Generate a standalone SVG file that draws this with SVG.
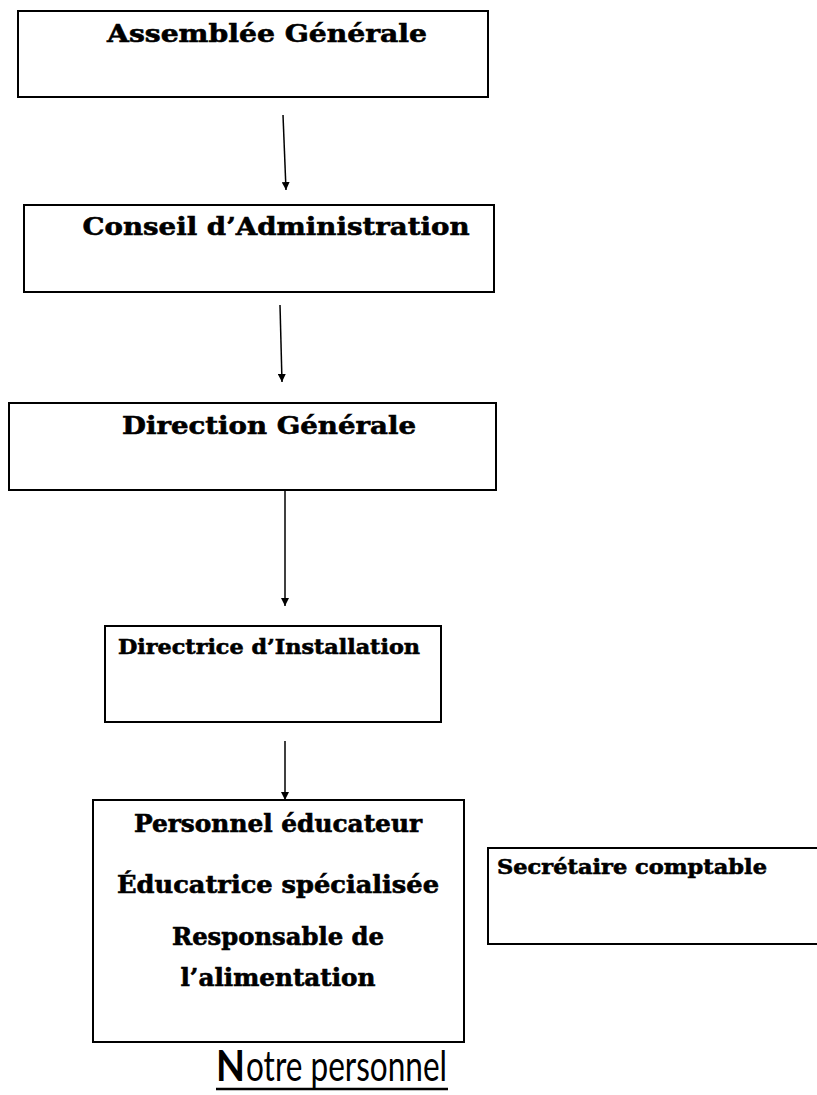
<svg xmlns="http://www.w3.org/2000/svg" width="817" height="1095" viewBox="0 0 817 1095">
<style>
.box{fill:#fff;stroke:#000;stroke-width:2}
.t{font-family:"DejaVu Serif","Liberation Serif",serif;font-weight:bold;fill:#000;stroke:#000;stroke-width:0.6}
.c{stroke:#000;stroke-width:1.5;fill:none}
.ttl{font-family:Lato,"Open Sans",sans-serif;font-size:42px;fill:#000}
</style>
<defs>
<marker id="ah" viewBox="0 0 10 10" refX="10" refY="5" markerWidth="8" markerHeight="8" markerUnits="userSpaceOnUse" orient="auto">
<path d="M0,0 L10,5 L0,10 z" fill="#000"/>
</marker>
</defs>
<rect width="817" height="1095" fill="#fff"/>
<g id="n1">
<rect class="box" x="18" y="11" width="470" height="86"/>
<text class="t" x="267" y="42" font-size="25" text-anchor="middle" textLength="320" lengthAdjust="spacingAndGlyphs">Assemblée Générale</text>
</g>
<g id="n2">
<rect class="box" x="24" y="205" width="470" height="87"/>
<text class="t" x="276" y="235" font-size="25" text-anchor="middle" textLength="387" lengthAdjust="spacingAndGlyphs">Conseil d’Administration</text>
</g>
<g id="n3">
<rect class="box" x="9" y="403" width="487" height="87"/>
<text class="t" x="269" y="434" font-size="25" text-anchor="middle" textLength="294" lengthAdjust="spacingAndGlyphs">Direction Générale</text>
</g>
<g id="n4">
<rect class="box" x="105" y="626" width="336" height="96"/>
<text class="t" x="118" y="654" font-size="21" textLength="302" lengthAdjust="spacingAndGlyphs">Directrice d’Installation</text>
</g>
<g id="n5">
<rect class="box" x="93" y="800" width="371" height="242"/>
<text class="t" x="278" y="832" font-size="23.5" text-anchor="middle" textLength="288" lengthAdjust="spacingAndGlyphs">Personnel éducateur</text>
<text class="t" x="278" y="893" font-size="23.5" text-anchor="middle" textLength="322" lengthAdjust="spacingAndGlyphs">Éducatrice spécialisée</text>
<text class="t" x="278" y="945" font-size="23.5" text-anchor="middle" textLength="212" lengthAdjust="spacingAndGlyphs">Responsable de</text>
<text class="t" x="278" y="986" font-size="23.5" text-anchor="middle" textLength="195" lengthAdjust="spacingAndGlyphs">l’alimentation</text>
</g>
<g id="n6">
<rect class="box" x="488" y="848" width="332" height="96"/>
<text class="t" x="497" y="874" font-size="21" textLength="270" lengthAdjust="spacingAndGlyphs">Secrétaire comptable</text>
</g>
<g id="connectors">
<line class="c" x1="283" y1="115" x2="286" y2="190" marker-end="url(#ah)"/>
<line class="c" x1="280" y1="305" x2="282" y2="382" marker-end="url(#ah)"/>
<line class="c" x1="285" y1="491" x2="285" y2="606" marker-end="url(#ah)"/>
<line class="c" x1="285" y1="741" x2="285" y2="800" marker-end="url(#ah)"/>
</g>
<g id="title">
<text class="ttl" x="216" y="1081" font-weight="bold" textLength="29" lengthAdjust="spacingAndGlyphs">N</text>
<text class="ttl" x="246" y="1081" textLength="201" lengthAdjust="spacingAndGlyphs">otre  personnel</text>
<line x1="216" y1="1089" x2="448" y2="1089" stroke="#000" stroke-width="2.5"/>
</g>
</svg>
